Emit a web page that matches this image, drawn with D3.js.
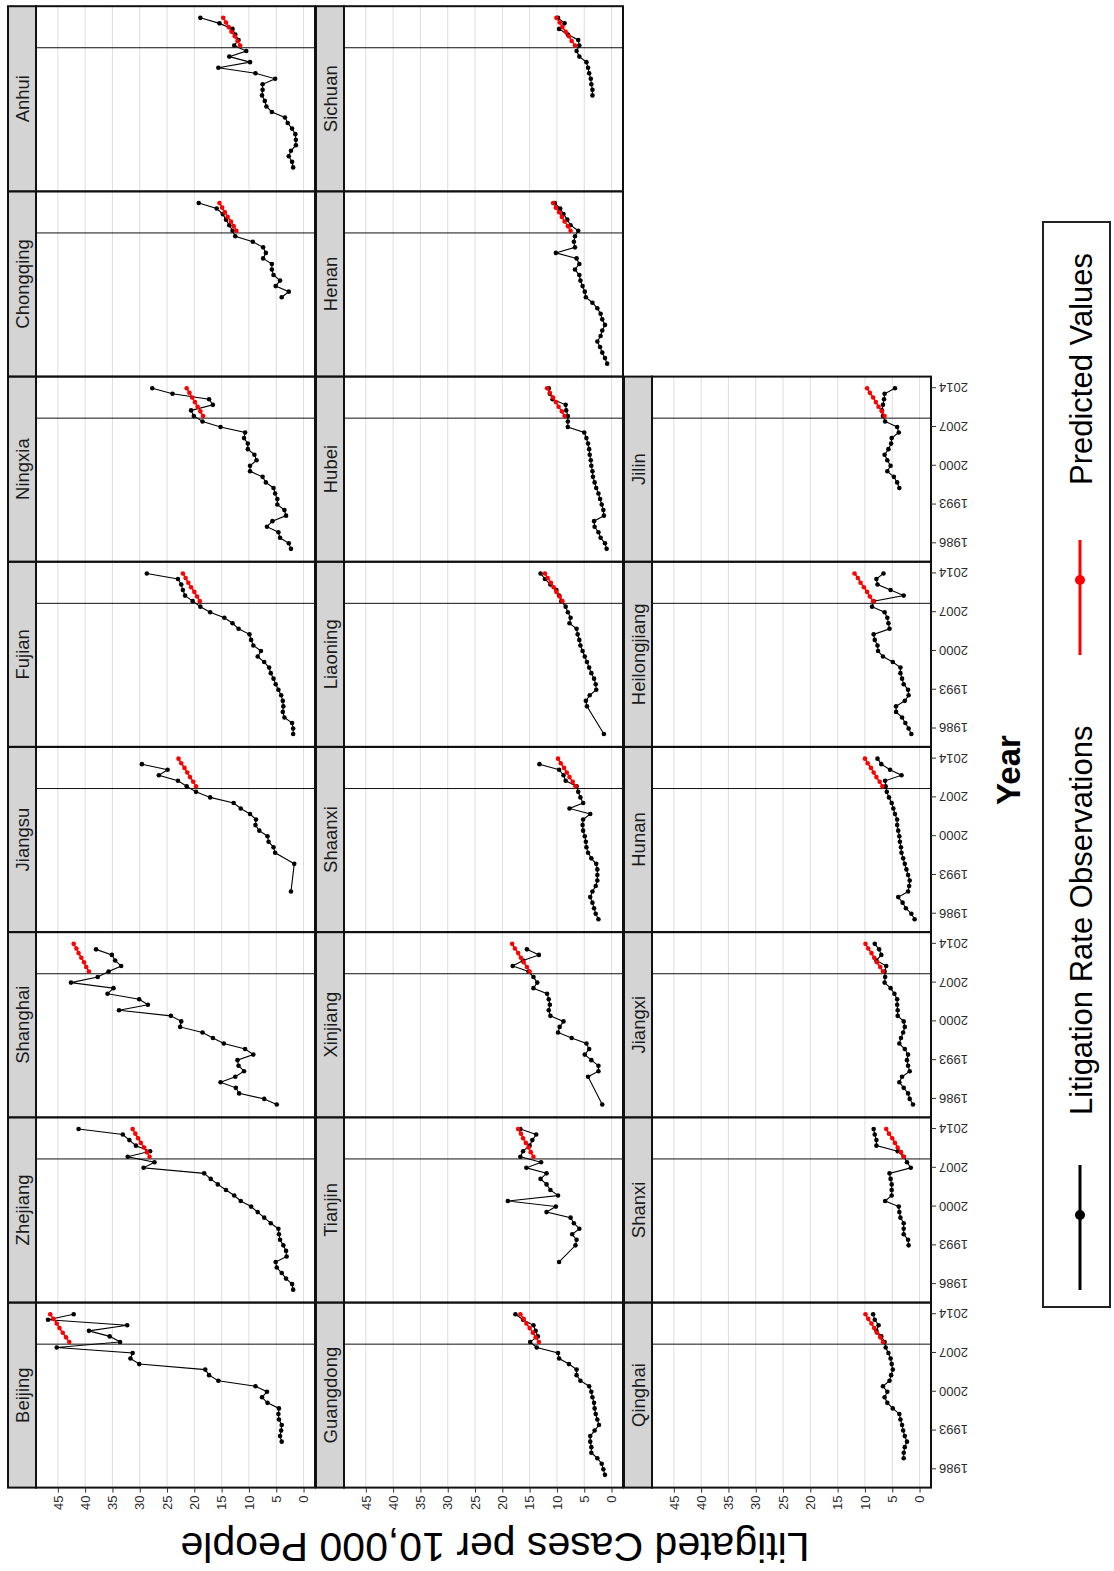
<!DOCTYPE html>
<html><head><meta charset="utf-8">
<script src="https://cdn.jsdelivr.net/npm/d3@7"></script>
<style>body{margin:0;background:#fff}svg{display:block}</style>
</head><body>
<svg id="chart" width="1114" height="1571"></svg>
<script>
// ---------------- data ----------------
const years = [1985,1986,1987,1988,1989,1990,1991,1992,1993,1994,1995,1996,1997,1998,1999,2000,2001,2002,2003,2004,2005,2006,2007,2008,2009,2010,2011,2012,2013,2014];
const provinces = ["Beijing","Zhejiang","Shanghai","Jiangsu","Fujian","Ningxia","Chongqing","Anhui",
                   "Guangdong","Tianjin","Xinjiang","Shaanxi","Liaoning","Hubei","Henan","Sichuan",
                   "Qinghai","Shanxi","Jiangxi","Hunan","Heilongjiang","Jilin"];
const obsBeijing = [null,null,null,null,null,null,4.0,4.3,4.1,4.0,4.5,4.6,4.5,6.6,7.6,6.7,8.8,15.6,17.3,18.0,30.1,31.7,31.3,45.2,33.6,35.5,39.3,32.3,46.8,42.1];
const obsZhejiang = [1.9,2.1,3.2,4.0,4.9,5.1,3.1,3.2,3.7,4.3,4.5,4.6,6.0,7.2,8.4,9.6,11.5,12.7,14.2,15.7,17.0,18.2,29.3,27.3,32.2,28.1,30.7,31.9,33.1,41.2];
const obsShanghai = [4.9,7.2,11.8,12.4,15.2,12.5,10.9,11.9,12.1,9.2,10.7,14.6,16.6,18.5,22.6,22.4,24.3,33.8,28.5,30.1,35.9,34.8,42.6,37.7,35.7,33.4,34.5,35.1,38.0,null];
const obsJiangsu = [null,null,null,null,null,2.3,null,null,null,null,1.7,null,5.2,5.5,6.4,6.6,8.1,8.8,8.7,9.8,11.5,12.8,17.1,19.7,21.4,23.0,26.5,24.9,29.6,null];
const obsFujian = [1.9,1.9,2.1,3.5,3.8,3.7,3.8,4.1,4.6,5.1,5.5,6.0,6.3,7.2,8.4,7.8,9.2,9.6,9.9,11.9,13.0,14.5,17.1,18.9,20.3,21.7,22.1,22.4,23.0,28.7];
const obsNingxia = [2.3,2.7,4.3,4.6,6.7,5.7,3.2,3.5,4.8,4.8,5.2,5.5,6.9,7.5,9.8,9.8,8.6,9.0,10.2,10.2,10.9,10.7,15.2,18.5,20.1,20.6,16.6,17.3,24.0,27.7];
const obsChongqing = [null,null,null,null,null,null,null,null,null,null,null,null,4.0,2.7,5.1,4.3,5.5,5.8,5.8,7.4,6.9,7.4,9.3,12.5,13.0,13.6,14.2,14.8,15.9,19.2];
const obsAnhui = [null,null,1.9,2.1,2.7,2.3,1.4,1.4,1.5,2.1,2.9,3.4,5.8,6.8,7.1,7.6,7.5,7.5,5.2,8.8,15.6,9.8,13.6,10.5,12.7,11.9,12.5,13.0,15.4,18.9];
const obsGuangdong = [1.2,1.5,1.8,2.6,3.7,3.7,3.9,3.9,3.1,2.3,2.6,2.9,3.1,3.2,3.5,3.7,4.1,5.7,6.4,6.4,7.8,9.6,9.8,13.7,14.9,13.5,13.9,14.3,16.2,17.6];
const obsTianjin = [null,null,null,null,null,9.6,null,null,6.6,6.4,7.2,5.9,6.9,7.5,11.9,10.2,19.0,9.8,11.2,11.9,13.0,11.9,15.6,12.9,16.7,16.2,15.0,14.5,13.8,16.7];
const obsXinjiang = [1.7,null,null,null,null,4.3,2.4,2.4,3.7,4.9,4.1,4.6,7.3,9.8,9.5,8.8,11.2,11.5,11.3,11.5,11.8,14.3,13.6,14.3,15.2,18.1,16.2,13.3,15.5,null];
const obsShaanxi = [2.4,2.9,3.2,3.5,3.9,3.5,2.9,2.6,2.6,2.6,2.8,3.7,4.3,4.6,4.7,4.9,5.2,5.3,5.2,3.9,7.7,5.2,5.7,6.1,6.4,8.4,8.8,9.6,13.2,null];
const obsLiaoning = [1.4,null,null,null,null,4.5,4.7,4.0,2.8,2.9,3.2,3.7,4.1,4.5,4.9,5.3,5.7,5.9,6.2,6.4,7.7,7.5,8.0,8.4,9.2,9.6,10.1,11.2,12.2,13.0];
const obsHubei = [0.9,1.2,2.0,2.4,3.1,3.2,1.4,1.5,1.8,2.1,2.4,2.8,3.1,3.4,3.5,3.7,3.8,4.0,4.1,4.3,4.6,5.0,8.0,8.0,8.0,8.3,8.4,10.8,11.3,11.5];
const obsHenan = [0.8,1.2,1.7,2.1,2.6,2.0,1.7,1.2,1.7,2.0,2.6,3.5,4.7,4.9,5.3,5.7,5.9,6.7,5.9,6.4,10.2,6.7,6.9,6.7,6.1,7.5,8.1,8.8,9.4,10.4];
const obsSichuan = [null,null,null,null,null,null,null,null,null,null,null,null,null,null,null,3.5,3.5,3.7,3.8,4.1,4.3,4.6,5.9,6.4,5.9,6.1,8.0,9.6,8.6,9.8];
const obsQinghai = [null,null,null,2.9,2.9,2.7,2.3,2.7,3.0,3.2,3.5,3.7,4.9,5.9,6.4,5.9,6.7,5.5,5.2,4.9,5.1,5.3,5.7,6.2,6.4,7.0,7.9,7.5,8.2,8.5];
const obsShanxi = [null,null,null,null,null,null,null,null,2.0,2.1,2.9,2.9,2.9,3.5,3.7,3.8,6.3,5.1,5.1,5.1,5.3,5.5,1.6,2.3,2.9,4.0,7.9,7.9,8.2,8.4];
const obsJiangxi = [1.2,1.8,2.1,2.9,3.7,3.2,1.8,2.1,2.3,2.1,2.7,3.7,3.4,3.0,2.7,2.9,4.0,4.0,4.1,4.1,4.6,5.3,6.4,6.3,6.4,6.1,7.9,7.0,7.4,8.2];
const obsHunan = [0.9,1.5,2.5,3.1,3.9,2.1,1.9,1.8,2.1,2.4,2.7,3.0,3.3,3.4,3.6,3.7,3.9,4.1,4.1,4.5,4.8,5.1,5.6,6.0,6.2,6.3,3.3,5.4,7.0,7.7];
const obsHeilongjiang = [1.5,2.0,2.6,3.2,4.3,4.3,2.7,2.0,2.1,2.9,3.2,3.5,3.5,4.9,6.7,7.6,7.7,8.2,8.4,5.5,5.7,5.9,6.4,8.7,8.4,2.9,5.3,7.7,7.9,6.6];
const obsJilin = [null,null,null,null,null,null,null,null,null,null,null,3.7,4.1,4.7,5.9,5.3,5.9,6.4,5.7,5.2,5.1,3.8,4.1,6.3,6.7,6.9,6.7,6.5,6.4,4.5];

const predYears = [2009,2009.83,2010.67,2011.5,2012.33,2013.17,2014];
const predBeijing = [42.9,43.5,44.1,44.7,45.2,45.8,46.4];
const predZhejiang = [28.2,28.7,29.2,29.8,30.3,30.8,31.3];
const predShanghai = [39.3,39.8,40.2,40.7,41.2,41.6,42.1];
const predJiangsu = [19.7,20.2,20.8,21.3,21.8,22.4,22.9];
const predFujian = [19.0,19.5,20.0,20.6,21.1,21.6,22.1];
const predNingxia = [18.4,18.9,19.4,19.9,20.4,20.9,21.4];
const predChongqing = [12.3,12.8,13.3,13.9,14.4,14.9,15.4];
const predAnhui = [11.6,12.1,12.6,13.2,13.7,14.2,14.7];
const predGuangdong = [13.3,13.9,14.4,15.0,15.6,16.1,16.7];
const predTianjin = [14.3,14.8,15.2,15.7,16.2,16.6,17.1];
const predXinjiang = [15.0,15.5,16.1,16.6,17.1,17.7,18.2];
const predShaanxi = [6.6,7.1,7.7,8.2,8.7,9.3,9.8];
const predLiaoning = [9.0,9.5,10.1,10.6,11.1,11.7,12.2];
const predHubei = [8.6,9.1,9.7,10.2,10.7,11.3,11.8];
const predHenan = [7.5,8.0,8.6,9.1,9.6,10.2,10.7];
const predSichuan = [6.7,7.3,7.8,8.4,9.0,9.5,10.1];
const predQinghai = [6.7,7.2,7.8,8.3,8.8,9.4,9.9];
const predShanxi = [2.9,3.4,4.0,4.5,5.0,5.6,6.1];
const predJiangxi = [6.7,7.2,7.8,8.3,8.8,9.4,9.9];
const predHunan = [6.8,7.3,7.9,8.4,8.9,9.5,10.0];
const predHeilongjiang = [8.5,9.1,9.6,10.2,10.8,11.3,11.9];
const predJilin = [6.4,6.9,7.5,8.0,8.5,9.1,9.6];

const breakYear = 2008.6;
const valueTicks = [0,5,10,15,20,25,30,35,40,45];
const yearTicks = [1986,1993,2000,2007,2014];
const legendLabels = ["Litigation Rate Observations","Predicted Values"];
const xTitle = "Year";
const yTitle = "Litigated Cases per 10,000 People";

const obsByName = {Beijing:obsBeijing,Zhejiang:obsZhejiang,Shanghai:obsShanghai,Jiangsu:obsJiangsu,Fujian:obsFujian,Ningxia:obsNingxia,Chongqing:obsChongqing,Anhui:obsAnhui,Guangdong:obsGuangdong,Tianjin:obsTianjin,Xinjiang:obsXinjiang,Shaanxi:obsShaanxi,Liaoning:obsLiaoning,Hubei:obsHubei,Henan:obsHenan,Sichuan:obsSichuan,Qinghai:obsQinghai,Shanxi:obsShanxi,Jiangxi:obsJiangxi,Hunan:obsHunan,Heilongjiang:obsHeilongjiang,Jilin:obsJilin};
const predByName = {Beijing:predBeijing,Zhejiang:predZhejiang,Shanghai:predShanghai,Jiangsu:predJiangsu,Fujian:predFujian,Ningxia:predNingxia,Chongqing:predChongqing,Anhui:predAnhui,Guangdong:predGuangdong,Tianjin:predTianjin,Xinjiang:predXinjiang,Shaanxi:predShaanxi,Liaoning:predLiaoning,Hubei:predHubei,Henan:predHenan,Sichuan:predSichuan,Qinghai:predQinghai,Shanxi:predShanxi,Jiangxi:predJiangxi,Hunan:predHunan,Heilongjiang:predHeilongjiang,Jilin:predJilin};

// ---------------- layout (drawn in landscape, then rotated) ----------------
const W = 1571, H = 1114;
const FONT = "'Liberation Sans', Arial, Helvetica, sans-serif";
const panelX0 = 83.4, pitch = 185.2, panelW = 185;
const rowTop = [8, 316, 624], stripH = 28, panelH = 279;

const svg = d3.select("#chart");
svg.append("rect").attr("width",1114).attr("height",1571).attr("fill","#fff");
const root = svg.append("g").attr("transform", `translate(0,${W}) rotate(-90)`);

const x = d3.scaleLinear().domain([1982.7, 2016.1]).range([0, panelW]);
const y = d3.scaleLinear().domain([-2.1, 49.0]).range([panelH, 0]);

const line = d3.line().x(d => x(d[0])).y(d => y(d[1]));

provinces.forEach((name, i) => {
  const row = Math.floor(i / 8), col = i % 8;
  const px = panelX0 + col * pitch, py = rowTop[row] + stripH;
  const g = root.append("g").attr("transform", `translate(${px},${py})`);
  g.append("rect").attr("width", panelW).attr("height", panelH).attr("fill", "#fff");
  g.selectAll("line.grid").data(valueTicks).enter().append("line")
    .attr("x1", 0).attr("x2", panelW).attr("y1", d => y(d)).attr("y2", d => y(d))
    .attr("stroke", "#dedede").attr("stroke-width", 1);
  g.append("line").attr("x1", x(breakYear)).attr("x2", x(breakYear))
    .attr("y1", 0).attr("y2", panelH).attr("stroke", "#111").attr("stroke-width", 1);

  const obs = years.map((yr, k) => [yr, obsByName[name][k]]).filter(d => d[1] != null);
  const pred = predYears.map((yr, k) => [yr, predByName[name][k]]);

  g.append("path").attr("d", line(obs)).attr("fill", "none").attr("stroke", "#000").attr("stroke-width", 1.1);
  g.selectAll("circle.o").data(obs).enter().append("circle")
    .attr("cx", d => x(d[0])).attr("cy", d => y(d[1])).attr("r", 2.3).attr("fill", "#000");
  g.append("path").attr("d", line(pred)).attr("fill", "none").attr("stroke", "#ff0000").attr("stroke-width", 1.5);
  g.selectAll("circle.p").data(pred).enter().append("circle")
    .attr("cx", d => x(d[0])).attr("cy", d => y(d[1])).attr("r", 2.3).attr("fill", "#ff0000");

  g.append("rect").attr("width", panelW).attr("height", panelH).attr("fill", "none")
    .attr("stroke", "#111").attr("stroke-width", 2);

  // strip
  const s = root.append("g").attr("transform", `translate(${px},${rowTop[row]})`);
  s.append("rect").attr("width", panelW).attr("height", stripH).attr("fill", "#d4d4d4")
    .attr("stroke", "#111").attr("stroke-width", 2);
  s.append("text").attr("x", panelW / 2).attr("y", stripH / 2).attr("dy", "0.36em")
    .attr("text-anchor", "middle").attr("font-family", FONT).attr("font-size", 18.5)
    .attr("fill", "#1a1a1a").text(name);

  // year axis on bottom row panels
  if (row === 2) {
    const ax = root.append("g").attr("transform", `translate(${px},${py + panelH})`)
      .call(d3.axisBottom(x).tickValues(yearTicks).tickFormat(d3.format("d")).tickSize(5).tickSizeOuter(0));
    ax.select(".domain").remove();
    ax.selectAll(".tick line").attr("stroke", "#333");
    ax.selectAll(".tick text").attr("transform", "rotate(-90)").attr("text-anchor", "end")
      .attr("x", -8).attr("y", 0).attr("dy", "0.35em")
      .attr("font-family", FONT).attr("font-size", 13).attr("fill", "#2b2b2b");
  }
  // value axis on first column panels
  if (col === 0) {
    const ay = root.append("g").attr("transform", `translate(${px},${py})`)
      .call(d3.axisLeft(y).tickValues(valueTicks).tickSize(5).tickSizeOuter(0));
    ay.select(".domain").remove();
    ay.selectAll(".tick line").attr("stroke", "#333");
    ay.selectAll(".tick text").attr("x", -8).attr("font-family", FONT).attr("font-size", 13).attr("fill", "#2b2b2b");
  }
});

// axis titles
root.append("text").attr("transform", `translate(38,495) rotate(-90)`).attr("text-anchor", "middle")
  .attr("font-family", FONT).attr("font-size", 41).attr("fill", "#000").text(yTitle);
root.append("text").attr("x", 801).attr("y", 1020).attr("text-anchor", "middle")
  .attr("font-family", FONT).attr("font-size", 33).attr("font-weight", "bold").attr("fill", "#000").text(xTitle);

// legend
const lg = root.append("g");
lg.append("rect").attr("x", 264).attr("y", 1043).attr("width", 1085).attr("height", 67)
  .attr("fill", "#fff").attr("stroke", "#222").attr("stroke-width", 2);
const keys = [{x1:281, x2:406, dot:356, tx:456, color:"#000"}, {x1:916, x2:1031, dot:991, tx:1086, color:"#ff0000"}];
keys.forEach((k, i) => {
  lg.append("line").attr("x1", k.x1).attr("x2", k.x2).attr("y1", 1080).attr("y2", 1080)
    .attr("stroke", k.color).attr("stroke-width", 3);
  lg.append("circle").attr("cx", k.dot).attr("cy", 1080).attr("r", 5).attr("fill", k.color);
  lg.append("text").attr("x", k.tx).attr("y", 1092).attr("font-family", FONT).attr("font-size", 31)
    .attr("fill", "#000").text(legendLabels[i]);
});
</script>
</body></html>
